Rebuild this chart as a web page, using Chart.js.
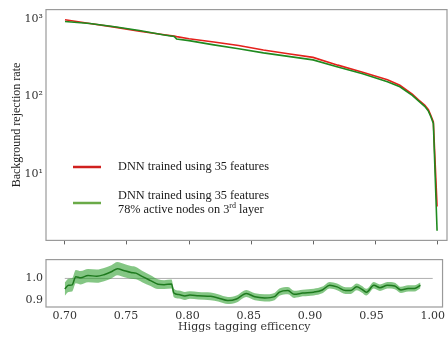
<!DOCTYPE html>
<html>
<head>
<meta charset="utf-8">
<script src="https://cdn.jsdelivr.net/npm/chart.js@4"></script>
<style>
  body { margin: 0; background: #fff; }
  #wrap { position: relative; width: 448px; height: 339px; }
  #top { position: absolute; left: 0; top: 0; }
  #bottom { position: absolute; left: 0; top: 250px; }
</style>
</head>
<body>
<div id="wrap">
  <canvas id="top" width="448" height="250"></canvas>
  <canvas id="bottom" width="448" height="89"></canvas>
</div>
<script>
// ROC curves (top panel)
const effTop = [0.70, 0.72, 0.74, 0.76, 0.78, 0.788, 0.79, 0.80, 0.82, 0.84, 0.86, 0.88, 0.90, 0.92, 0.94, 0.96, 0.97, 0.98, 0.985, 0.99, 0.993, 0.995, 0.997, 1.0];
const rejFull = [985, 880, 790, 700, 630, 605, 595, 560, 508, 457, 400, 357, 321, 255, 207, 165, 140, 108, 91, 78, 68, 57, 47, 3.8];
const rejPruned = [935, 880, 800, 715, 625, 598, 556, 528, 466, 416, 367, 331, 298, 241, 198, 156, 134, 104, 88, 75, 65, 55, 45, 1.85];

// ratio (bottom panel)
const effRatio = [0.700, 0.703, 0.706, 0.709, 0.713, 0.719, 0.726, 0.732, 0.738, 0.743, 0.748, 0.754, 0.758, 0.763, 0.770, 0.776, 0.781, 0.787, 0.789, 0.793, 0.798, 0.802, 0.809, 0.819, 0.825, 0.833, 0.840, 0.848, 0.855, 0.863, 0.871, 0.875, 0.882, 0.887, 0.894, 0.903, 0.910, 0.916, 0.922, 0.929, 0.933, 0.938, 0.942, 0.946, 0.952, 0.957, 0.963, 0.969, 0.974, 0.980, 0.985, 0.990];
const ratio = [0.952, 0.969, 0.971, 1.008, 1.003, 1.013, 1.010, 1.017, 1.030, 1.044, 1.036, 1.027, 1.024, 1.009, 0.990, 0.974, 0.972, 0.975, 0.934, 0.927, 0.921, 0.925, 0.922, 0.919, 0.912, 0.900, 0.907, 0.932, 0.917, 0.912, 0.918, 0.938, 0.945, 0.928, 0.934, 0.938, 0.948, 0.969, 0.962, 0.945, 0.945, 0.962, 0.952, 0.938, 0.969, 0.958, 0.969, 0.966, 0.948, 0.955, 0.955, 0.969];
const ratioErr = [0.030, 0.030, 0.030, 0.030, 0.030, 0.030, 0.030, 0.030, 0.030, 0.030, 0.030, 0.029, 0.028, 0.026, 0.024, 0.022, 0.020, 0.020, 0.019, 0.018, 0.018, 0.017, 0.017, 0.017, 0.016, 0.016, 0.016, 0.016, 0.016, 0.016, 0.016, 0.016, 0.016, 0.016, 0.015, 0.015, 0.015, 0.015, 0.015, 0.015, 0.015, 0.015, 0.015, 0.015, 0.015, 0.015, 0.015, 0.015, 0.014, 0.014, 0.014, 0.013];

const xTicks = [0.70, 0.75, 0.80, 0.85, 0.90, 0.95, 1.00];
const yTopTicks = [10, 100, 1000];
const yTopLabels = ['10¹', '10²', '10³'];
const yBotTicks = [0.9, 1.0];
const legendLabels = ['DNN trained using 35 features', 'DNN trained using 35 features', '78% active nodes on 3', 'rd', ' layer'];

const tickFont = { family: 'DejaVu Serif', size: 11 };
const pts = (xs, ys) => xs.map((x, i) => ({ x: x, y: ys[i] }));

const frame = {
  id: 'frame',
  afterDatasetsDraw(chart) {
    const a = chart.chartArea, c = chart.ctx;
    c.save();
    c.strokeStyle = '#9a9a9a';
    c.lineWidth = 1.2;
    c.strokeRect(a.left, a.top, a.right - a.left, a.bottom - a.top);
    c.restore();
  }
};

const legendBox = {
  id: 'legendBox',
  afterDraw(chart) {
    const c = chart.ctx;
    c.save();
    c.lineWidth = 2.5;
    c.strokeStyle = '#d0201e';
    c.beginPath(); c.moveTo(73, 167); c.lineTo(101, 167); c.stroke();
    c.strokeStyle = '#6aaa48';
    c.beginPath(); c.moveTo(73, 203); c.lineTo(101, 203); c.stroke();
    c.fillStyle = '#1a1a1a';
    c.textBaseline = 'middle';
    c.font = '12.3px "Liberation Serif"';
    c.fillText(legendLabels[0], 118, 167);
    c.fillText(legendLabels[1], 118, 196);
    c.fillText(legendLabels[2], 118, 210);
    let x = 118 + c.measureText(legendLabels[2]).width;
    c.font = '8px "Liberation Serif"';
    c.fillText(legendLabels[3], x, 206);
    x += c.measureText(legendLabels[3]).width;
    c.font = '12.3px "Liberation Serif"';
    c.fillText(legendLabels[4], x, 210);
    c.restore();
  }
};

new Chart(document.getElementById('top'), {
  type: 'line',
  data: {
    datasets: [{
      label: legendLabels[0],
      data: pts(effTop, rejFull),
      borderColor: '#e4211c',
      borderWidth: 1.6,
      pointRadius: 0,
      order: 2
    },
    {
      label: legendLabels[1],
      data: pts(effTop, rejPruned),
      borderColor: '#1f8a1f',
      borderWidth: 1.6,
      pointRadius: 0,
      order: 1
    }]
  },
  options: {
    responsive: false,
    animation: false,
    layout: { padding: { top: 3, right: 1, left: 0, bottom: 0 } },
    plugins: { legend: { display: false }, tooltip: { enabled: false } },
    scales: {
      x: {
        type: 'linear',
        min: 0.6847,
        max: 1.008,
        afterBuildTicks: s => { s.ticks = xTicks.map(v => ({ value: v })); },
        afterFit: s => { s.height = 7; },
        ticks: { display: false },
        grid: { drawOnChartArea: false, tickLength: 4, color: '#666' },
        border: { display: false }
      },
      y: {
        type: 'logarithmic',
        min: 1.39,
        max: 1330,
        afterBuildTicks: s => { s.ticks = yTopTicks.map(v => ({ value: v })); },
        afterFit: s => { s.width = 46; },
        ticks: {
          font: tickFont,
          color: '#333',
          padding: 3,
          callback: v => yTopLabels[yTopTicks.indexOf(v)]
        },
        grid: { display: false, drawTicks: false },
        border: { display: false },
        title: {
          display: true,
          text: 'Background rejection rate',
          font: { family: 'Liberation Serif', size: 12 },
          color: '#222',
          padding: { top: 10 }
        }
      }
    }
  },
  plugins: [frame, legendBox]
});

new Chart(document.getElementById('bottom'), {
  type: 'line',
  data: {
    datasets: [{
      data: pts(effRatio, ratio.map((r, i) => r + ratioErr[i])),
      borderWidth: 0,
      backgroundColor: 'rgba(50,160,50,0.6)',
      fill: '+1',
      pointRadius: 0,
      cubicInterpolationMode: 'monotone'
    },
    {
      data: pts(effRatio, ratio.map((r, i) => r - ratioErr[i])),
      borderWidth: 0,
      pointRadius: 0,
      fill: false,
      cubicInterpolationMode: 'monotone'
    },
    {
      data: pts(effRatio, ratio),
      borderColor: '#1e7a1e',
      borderWidth: 1.5,
      pointRadius: 0,
      fill: false,
      cubicInterpolationMode: 'monotone',
      order: -1
    },
    {
      data: pts([0.70, 1.00], [1.0, 1.0]),
      borderColor: '#b0b0b0',
      borderWidth: 1,
      pointRadius: 0,
      fill: false,
      order: 5
    }]
  },
  options: {
    responsive: false,
    animation: false,
    layout: { padding: { top: 5, right: 1, left: 0, bottom: 0 } },
    plugins: { legend: { display: false }, tooltip: { enabled: false } },
    scales: {
      x: {
        type: 'linear',
        min: 0.6847,
        max: 1.008,
        afterBuildTicks: s => { s.ticks = xTicks.map(v => ({ value: v })); },
        afterFit: s => { s.height = 32; },
        ticks: { font: tickFont, color: '#333', padding: 3, callback: v => v.toFixed(2) },
        grid: { display: false, drawTicks: false },
        border: { display: false },
        title: {
          display: true,
          text: 'Higgs tagging efficency',
          font: tickFont,
          color: '#333',
          padding: { bottom: 5 }
        }
      },
      y: {
        min: 0.871,
        max: 1.085,
        afterBuildTicks: s => { s.ticks = yBotTicks.map(v => ({ value: v })); },
        afterFit: s => { s.width = 46; },
        ticks: { font: tickFont, color: '#333', padding: 3, callback: v => v.toFixed(1) },
        grid: { display: false, drawTicks: false },
        border: { display: false }
      }
    }
  },
  plugins: [frame]
});
</script>
</body>
</html>
